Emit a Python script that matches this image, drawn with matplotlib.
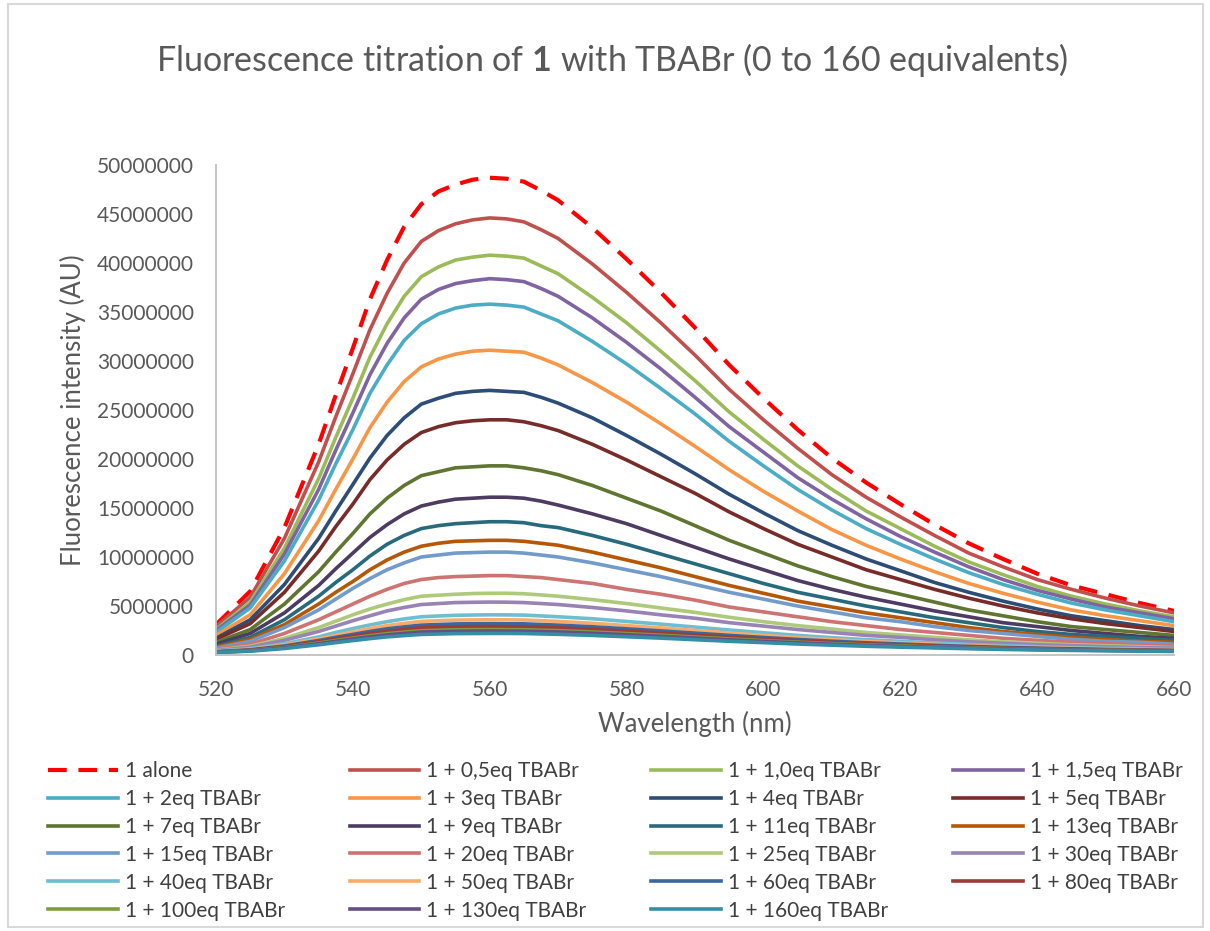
import matplotlib
matplotlib.use("Agg")
import matplotlib.pyplot as plt
import numpy as np
from matplotlib.patches import Rectangle
from matplotlib.ticker import FuncFormatter

plt.rcParams['font.family'] = ['Lato', 'DejaVu Sans']
plt.rcParams['mathtext.fontset'] = 'custom'
plt.rcParams['mathtext.rm'] = 'Lato'
plt.rcParams['mathtext.bf'] = 'Lato:bold'

# wavelengths (nm), values in millions of AU
wavelength = [520, 525, 530, 535, 537.5, 540, 542.5, 545, 547.5, 550, 552.5, 555, 557.5,
              560, 562.5, 565, 567.5, 570, 575, 580, 585, 590, 595, 600, 605, 610, 615,
              620, 625, 630, 635, 640, 645, 650, 655, 660]

alone = [3.1, 6.5, 13.0, 21.5, 26.5, 31.3, 36.3, 40.3, 43.7, 46.0, 47.3, 48.0, 48.5,
         48.7, 48.6, 48.3, 47.4, 46.4, 43.6, 40.4, 37.0, 33.4, 29.6, 26.2, 23.0, 20.1, 17.6,
         15.4, 13.3, 11.4, 9.8, 8.3, 7.1, 6.2, 5.3, 4.5]
eq0_5 = [2.9, 5.9, 11.9, 19.7, 24.3, 28.7, 33.2, 36.9, 40.0, 42.2, 43.3, 44.0, 44.4,
         44.6, 44.5, 44.2, 43.4, 42.5, 39.9, 37.0, 33.9, 30.6, 27.1, 24.0, 21.1, 18.4, 16.1,
         14.1, 12.2, 10.4, 9.0, 7.7, 6.7, 5.8, 5.0, 4.3]
eq1_0 = [2.6, 5.4, 10.9, 18.0, 22.2, 26.2, 30.4, 33.8, 36.6, 38.6, 39.6, 40.3, 40.6,
         40.8, 40.7, 40.5, 39.7, 38.9, 36.5, 33.9, 31.0, 28.0, 24.8, 22.0, 19.3, 16.9, 14.7,
         12.9, 11.1, 9.5, 8.2, 7.0, 6.0, 5.2, 4.5, 3.9]
eq1_5 = [2.5, 5.1, 10.3, 16.9, 20.9, 24.7, 28.6, 31.8, 34.4, 36.3, 37.3, 37.9, 38.2,
         38.4, 38.3, 38.1, 37.4, 36.6, 34.4, 31.9, 29.2, 26.3, 23.3, 20.7, 18.1, 15.9, 13.9,
         12.1, 10.5, 9.0, 7.7, 6.6, 5.7, 4.9, 4.3, 3.7]
eq2 = [2.3, 4.8, 9.6, 15.8, 19.5, 23.0, 26.7, 29.6, 32.1, 33.8, 34.8, 35.4, 35.7,
       35.8, 35.7, 35.5, 34.8, 34.1, 32.0, 29.7, 27.2, 24.6, 21.8, 19.3, 16.9, 14.8, 12.9,
       11.3, 9.8, 8.4, 7.2, 6.2, 5.3, 4.6, 4.0, 3.4]
eq3 = [2.0, 4.1, 8.3, 13.7, 16.9, 20.0, 23.2, 25.8, 27.9, 29.4, 30.2, 30.7, 31.0,
       31.1, 31.0, 30.9, 30.3, 29.6, 27.8, 25.8, 23.6, 21.3, 18.9, 16.7, 14.7, 12.8, 11.2,
       9.8, 8.5, 7.3, 6.3, 5.4, 4.6, 4.0, 3.5, 3.0]
eq4 = [1.7, 3.6, 7.2, 11.9, 14.7, 17.4, 20.1, 22.4, 24.2, 25.6, 26.2, 26.7, 26.9,
       27.0, 26.9, 26.8, 26.3, 25.7, 24.2, 22.4, 20.5, 18.5, 16.4, 14.5, 12.7, 11.2, 9.8,
       8.6, 7.4, 6.4, 5.5, 4.7, 4.0, 3.5, 3.0, 2.6]
eq5 = [1.6, 3.2, 6.4, 10.6, 13.1, 15.4, 17.9, 19.9, 21.5, 22.7, 23.3, 23.7, 23.9,
       24.0, 24.0, 23.8, 23.4, 22.9, 21.5, 19.9, 18.2, 16.5, 14.6, 12.9, 11.3, 10.0, 8.7,
       7.7, 6.7, 5.8, 5.0, 4.3, 3.7, 3.2, 2.8, 2.4]
eq7 = [1.3, 2.6, 5.2, 8.5, 10.5, 12.4, 14.4, 16.0, 17.3, 18.3, 18.7, 19.1, 19.2,
       19.3, 19.3, 19.1, 18.8, 18.4, 17.3, 16.0, 14.7, 13.2, 11.7, 10.4, 9.1, 8.0, 7.0,
       6.2, 5.4, 4.6, 4.0, 3.4, 2.9, 2.6, 2.3, 2.0]
eq9 = [1.1, 2.2, 4.3, 7.1, 8.8, 10.4, 12.0, 13.3, 14.4, 15.2, 15.6, 15.9, 16.0,
       16.1, 16.1, 16.0, 15.7, 15.3, 14.4, 13.4, 12.2, 11.0, 9.8, 8.7, 7.6, 6.7, 5.9,
       5.2, 4.5, 3.9, 3.3, 2.9, 2.5, 2.2, 1.9, 1.7]
eq11 = [0.9, 1.8, 3.6, 6.0, 7.4, 8.7, 10.1, 11.3, 12.2, 12.9, 13.2, 13.4, 13.5,
        13.6, 13.6, 13.5, 13.2, 13.0, 12.2, 11.3, 10.3, 9.3, 8.3, 7.3, 6.4, 5.7, 5.0,
        4.4, 3.8, 3.3, 2.8, 2.4, 2.1, 1.9, 1.7, 1.5]
eq13 = [0.8, 1.6, 3.1, 5.2, 6.4, 7.5, 8.7, 9.7, 10.5, 11.1, 11.4, 11.6, 11.65,
        11.7, 11.7, 11.6, 11.4, 11.2, 10.5, 9.7, 8.9, 8.0, 7.1, 6.3, 5.5, 4.9, 4.3,
        3.8, 3.3, 2.8, 2.4, 2.1, 1.8, 1.6, 1.4, 1.3]
eq15 = [0.7, 1.4, 2.8, 4.6, 5.7, 6.8, 7.8, 8.7, 9.4, 10.0, 10.2, 10.4, 10.45,
        10.5, 10.5, 10.4, 10.2, 10.0, 9.4, 8.7, 8.0, 7.2, 6.4, 5.7, 5.0, 4.4, 3.8,
        3.4, 2.9, 2.5, 2.2, 1.9, 1.6, 1.4, 1.3, 1.1]
eq20 = [0.6, 1.1, 2.2, 3.6, 4.4, 5.2, 6.0, 6.7, 7.3, 7.7, 7.9, 8.0, 8.05,
        8.1, 8.1, 8.0, 7.9, 7.7, 7.3, 6.7, 6.2, 5.6, 4.9, 4.4, 3.9, 3.4, 3.0,
        2.6, 2.3, 2.0, 1.7, 1.5, 1.3, 1.2, 1.0, 0.9]
eq25 = [0.5, 0.9, 1.7, 2.8, 3.45, 4.1, 4.7, 5.2, 5.65, 6.0, 6.1, 6.2, 6.27,
        6.3, 6.3, 6.25, 6.13, 6.0, 5.65, 5.25, 4.8, 4.35, 3.85, 3.4, 3.0, 2.65, 2.3,
        2.05, 1.8, 1.55, 1.35, 1.2, 1.05, 0.95, 0.85, 0.75]
eq30 = [0.45, 0.8, 1.5, 2.4, 2.95, 3.5, 4.0, 4.5, 4.85, 5.15, 5.25, 5.35, 5.38,
        5.4, 5.39, 5.35, 5.25, 5.15, 4.85, 4.5, 4.1, 3.75, 3.3, 2.95, 2.6, 2.3, 2.0,
        1.8, 1.55, 1.35, 1.2, 1.05, 0.95, 0.85, 0.75, 0.7]
eq40 = [0.4, 0.65, 1.15, 1.85, 2.3, 2.7, 3.07, 3.4, 3.68, 3.9, 3.98, 4.05, 4.08,
        4.1, 4.09, 4.07, 3.99, 3.9, 3.7, 3.42, 3.15, 2.85, 2.55, 2.27, 2.0, 1.77, 1.57,
        1.4, 1.23, 1.08, 0.95, 0.85, 0.76, 0.69, 0.63, 0.57]
eq50 = [0.35, 0.58, 1.02, 1.65, 2.0, 2.35, 2.7, 3.0, 3.23, 3.43, 3.5, 3.56, 3.58,
        3.6, 3.59, 3.57, 3.5, 3.43, 3.24, 3.0, 2.77, 2.5, 2.24, 2.0, 1.77, 1.57, 1.39,
        1.24, 1.09, 0.96, 0.85, 0.76, 0.68, 0.62, 0.56, 0.51]
eq60 = [0.33, 0.53, 0.92, 1.48, 1.8, 2.1, 2.4, 2.67, 2.87, 3.05, 3.11, 3.17, 3.19,
        3.2, 3.19, 3.18, 3.11, 3.05, 2.88, 2.67, 2.46, 2.23, 2.0, 1.79, 1.59, 1.41, 1.25,
        1.12, 0.99, 0.88, 0.78, 0.7, 0.63, 0.57, 0.52, 0.47]
eq80 = [0.31, 0.49, 0.84, 1.35, 1.64, 1.92, 2.18, 2.42, 2.61, 2.77, 2.82, 2.87, 2.89,
        2.9, 2.89, 2.88, 2.82, 2.77, 2.61, 2.43, 2.24, 2.03, 1.82, 1.63, 1.45, 1.29, 1.15,
        1.03, 0.91, 0.81, 0.72, 0.65, 0.58, 0.53, 0.48, 0.44]
eq100 = [0.29, 0.45, 0.77, 1.22, 1.48, 1.73, 1.97, 2.18, 2.34, 2.48, 2.53, 2.57, 2.59,
         2.6, 2.59, 2.58, 2.53, 2.49, 2.35, 2.19, 2.02, 1.83, 1.64, 1.47, 1.31, 1.17, 1.04,
         0.93, 0.83, 0.74, 0.66, 0.59, 0.53, 0.49, 0.45, 0.41]
eq130 = [0.27, 0.43, 0.73, 1.15, 1.4, 1.63, 1.85, 2.05, 2.2, 2.34, 2.38, 2.42, 2.44,
         2.45, 2.44, 2.43, 2.39, 2.35, 2.22, 2.07, 1.91, 1.73, 1.55, 1.39, 1.24, 1.1, 0.98,
         0.88, 0.79, 0.7, 0.63, 0.56, 0.51, 0.47, 0.43, 0.39]
eq160 = [0.25, 0.39, 0.66, 1.04, 1.26, 1.47, 1.67, 1.85, 1.98, 2.1, 2.14, 2.18, 2.19,
         2.2, 2.2, 2.19, 2.15, 2.11, 2.0, 1.86, 1.72, 1.56, 1.4, 1.26, 1.12, 1.0, 0.89,
         0.8, 0.72, 0.64, 0.57, 0.51, 0.47, 0.43, 0.39, 0.36]

series = [alone, eq0_5, eq1_0, eq1_5, eq2, eq3, eq4, eq5, eq7, eq9, eq11, eq13, eq15,
          eq20, eq25, eq30, eq40, eq50, eq60, eq80, eq100, eq130, eq160]
labels = ["1 alone", "1 + 0,5eq TBABr", "1 + 1,0eq TBABr", "1 + 1,5eq TBABr",
          "1 + 2eq TBABr", "1 + 3eq TBABr", "1 + 4eq TBABr", "1 + 5eq TBABr",
          "1 + 7eq TBABr", "1 + 9eq TBABr", "1 + 11eq TBABr", "1 + 13eq TBABr",
          "1 + 15eq TBABr", "1 + 20eq TBABr", "1 + 25eq TBABr", "1 + 30eq TBABr",
          "1 + 40eq TBABr", "1 + 50eq TBABr", "1 + 60eq TBABr", "1 + 80eq TBABr",
          "1 + 100eq TBABr", "1 + 130eq TBABr", "1 + 160eq TBABr"]
colors = ["#FF0000", "#C0504D", "#9BBB59", "#8064A2", "#4BACC6", "#F79646",
          "#2C4D75", "#772C2A", "#5F7530", "#4D3B62", "#276A7C", "#B65708",
          "#729ACA", "#CD7371", "#AFC97A", "#9983B5", "#6FBDD1", "#F9AB6B",
          "#3A679C", "#9E3B38", "#7E9D40", "#664F82", "#358EA6"]

fig = plt.figure(figsize=(12.1, 9.31), dpi=100)
ax = fig.add_axes([216/1210, 1-655/931, 958/1210, 490/931])

for y, lbl, c in zip(series, labels, colors):
    if lbl == "1 alone":
        ax.plot(wavelength, np.array(y)*1e6, color=c, lw=3, dashes=(4.5, 2.8), label=lbl)
    else:
        ax.plot(wavelength, np.array(y)*1e6, color=c, lw=2.6, label=lbl,
                solid_joinstyle='round')

ax.set_xlim(520, 660)
ax.set_ylim(0, 50000000)
ax.set_xticks(range(520, 661, 20))
ax.set_yticks(range(0, 50000001, 5000000))
ax.yaxis.set_major_formatter(FuncFormatter(lambda v, p: f"{int(v)}"))
ax.tick_params(length=0, labelsize=15, colors='#595959')
ax.tick_params(axis='y', pad=16)
ax.tick_params(axis='x', pad=18)
for s in ['top', 'right']:
    ax.spines[s].set_visible(False)
for s in ['left', 'bottom']:
    ax.spines[s].set_color('#BFBFBF')
    ax.spines[s].set_linewidth(1.3)

ax.set_xlabel("Wavelength (nm)", fontsize=18.5, color='#595959')
ax.set_ylabel("Fluorescence intensity (AU)", fontsize=18.5, color='#595959')
ax.xaxis.set_label_coords(0.5, -0.115)
ax.yaxis.set_label_coords(-0.136, 0.5)

fig.text(612/1210, 1-60/931,
         r"Fluorescence titration of $\mathbf{1}$ with TBABr (0 to 160 equivalents)",
         ha='center', va='center', fontsize=24.5, color='#595959')

# legend is filled row by row in the original
handles, lbls = ax.get_legend_handles_labels()
order = [i for c in range(4) for i in range(c, len(handles), 4)]
fig.legend([handles[i] for i in order], [lbls[i] for i in order],
           ncol=4, loc='upper left', bbox_to_anchor=(48/1210, 1-761/931),
           frameon=False, fontsize=15, handlelength=3.35, handletextpad=0.34,
           columnspacing=3.1, labelspacing=0.38, borderpad=0, borderaxespad=0,
           labelcolor='#404040')

fig.patches.append(Rectangle((8/1210, 4/931), 1195/1210, 923/931, transform=fig.transFigure,
                             fill=False, ec='#D9D9D9', lw=1.5))

fig.savefig("out.png", dpi=100)
